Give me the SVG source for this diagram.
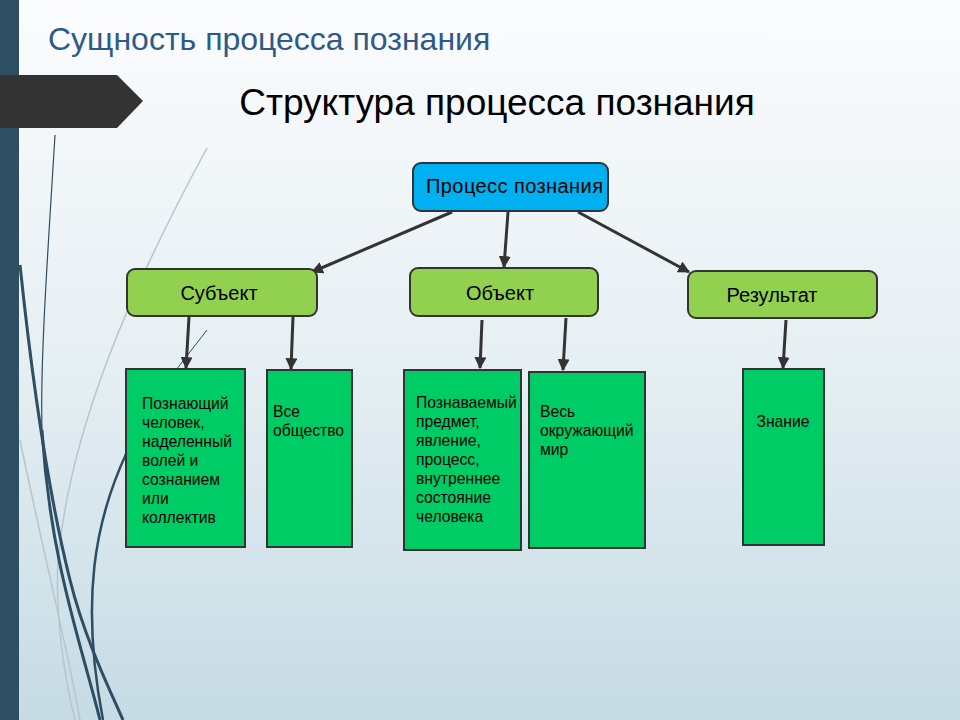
<svg xmlns="http://www.w3.org/2000/svg" width="960" height="720" viewBox="0 0 960 720">
<defs>
<linearGradient id="bg" x1="0" y1="0" x2="0" y2="1">
<stop offset="0" stop-color="#fbfcfd"/>
<stop offset="0.5" stop-color="#e6eff3"/>
<stop offset="1" stop-color="#c6dbe5"/>
</linearGradient>
<marker id="ah" viewBox="0 0 10 10" refX="9" refY="5" markerWidth="4" markerHeight="4" orient="auto" markerUnits="strokeWidth">
<path d="M0,0 L10,5 L0,10 z" fill="#333"/>
</marker>
<style>
.t{font-family:"Liberation Sans",Arial,sans-serif;fill:#000}
.top{fill:#00b0f0;stroke:#333;stroke-width:2}
.mid{fill:#92d050;stroke:#333;stroke-width:2}
.leaf{fill:#00cc66;stroke:#333;stroke-width:2}
.c{stroke:#333;stroke-width:3;fill:none;marker-end:url(#ah)}
.deco{fill:none;stroke:#2e4e63}
.gray{fill:none;stroke:#b8c6cc;stroke-width:1.5}
.lt{font-size:15.7px}
.mt{font-size:20px}
</style>
</defs>
<rect width="960" height="720" fill="url(#bg)"/>
<g id="decoration">
<path class="gray" d="M207,148 C130,290 70,430 58,560 C55,620 65,680 75,720"/>
<path class="gray" stroke-width="2.5" d="M20,440 C45,560 70,660 80,720"/>
<path class="deco" stroke-width="1.2" d="M55,135 C48,250 40,360 42,430"/>
<path class="deco" stroke-width="3" d="M42,430 C50,560 80,640 100,720"/>
<path class="deco" stroke-width="3" d="M20,265 C30,360 45,480 70,580 C85,640 110,690 123,720"/>
<path class="deco" stroke-width="2.5" d="M127,452 C95,520 80,600 103,720"/>
<line x1="207" y1="330" x2="176" y2="370" stroke="#2e4e63" stroke-width="1"/>
<rect x="0" y="0" width="19" height="720" fill="#2e4e63"/>
<polygon points="0,75 117,75 143,101 117,128 0,128" fill="#333"/>
</g>
<text class="t" x="48" y="50" font-size="32" style="fill:#2e5a8a">Сущность процесса познания</text>
<text class="t" x="497" y="115" font-size="37" text-anchor="middle">Структура процесса познания</text>
<g id="connectors">
<line class="c" x1="452" y1="212" x2="312" y2="272"/>
<line class="c" x1="508" y1="212" x2="504" y2="267"/>
<line class="c" x1="578" y1="212" x2="689" y2="272"/>
<line class="c" x1="189" y1="317" x2="186" y2="368"/>
<line class="c" x1="293" y1="317" x2="291" y2="369"/>
<line class="c" x1="482" y1="320" x2="480" y2="368"/>
<line class="c" x1="566" y1="318" x2="563" y2="370"/>
<line class="c" x1="786" y1="320" x2="783" y2="368"/>
</g>
<g id="process">
<rect class="top" x="413" y="163" width="195" height="48" rx="8"/>
<text class="t" x="426" y="193" font-size="20" textLength="177">Процесс познания</text>
</g>
<g id="subject">
<rect class="mid" x="127" y="269" width="190" height="47" rx="8"/>
<text class="t mt" x="219" y="300" text-anchor="middle">Субъект</text>
</g>
<g id="object">
<rect class="mid" x="410" y="268" width="188" height="48" rx="8"/>
<text class="t mt" x="500" y="300" text-anchor="middle">Объект</text>
</g>
<g id="result">
<rect class="mid" x="688" y="271" width="189" height="47" rx="8"/>
<text class="t mt" x="772" y="302" text-anchor="middle">Результат</text>
</g>
<g id="subject-person">
<rect class="leaf" x="126" y="369" width="119" height="178"/>
<text class="t lt"><tspan x="142" y="409">Познающий</tspan><tspan x="142" y="428">человек,</tspan><tspan x="142" y="447">наделенный</tspan><tspan x="142" y="466">волей и</tspan><tspan x="142" y="485">сознанием</tspan><tspan x="142" y="504">или</tspan><tspan x="142" y="523">коллектив</tspan></text>
</g>
<g id="subject-society">
<rect class="leaf" x="267" y="370" width="85" height="177"/>
<text class="t lt"><tspan x="273" y="417">Все</tspan><tspan x="273" y="436">общество</tspan></text>
</g>
<g id="object-thing">
<rect class="leaf" x="404" y="370" width="117" height="180"/>
<text class="t lt"><tspan x="416" y="408">Познаваемый</tspan><tspan x="416" y="427">предмет,</tspan><tspan x="416" y="446">явление,</tspan><tspan x="416" y="465">процесс,</tspan><tspan x="416" y="484">внутреннее</tspan><tspan x="416" y="503">состояние</tspan><tspan x="416" y="522">человека</tspan></text>
</g>
<g id="object-world">
<rect class="leaf" x="529" y="372" width="116" height="176"/>
<text class="t lt"><tspan x="540" y="417">Весь</tspan><tspan x="540" y="436">окружающий</tspan><tspan x="540" y="455">мир</tspan></text>
</g>
<g id="result-knowledge">
<rect class="leaf" x="743" y="369" width="81" height="176"/>
<text class="t lt" x="783" y="427" text-anchor="middle">Знание</text>
</g>
</svg>
